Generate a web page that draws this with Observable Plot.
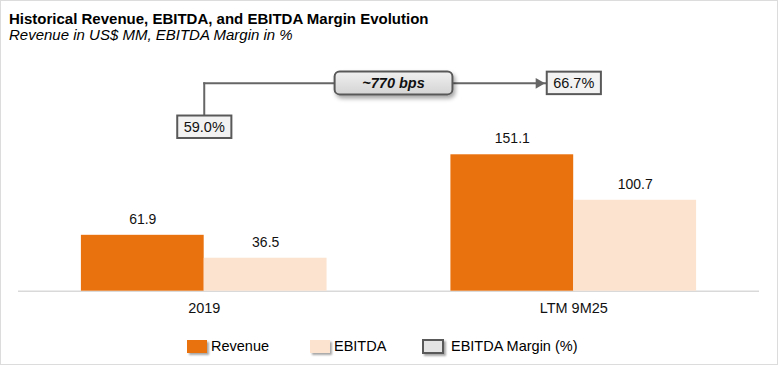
<!DOCTYPE html>
<html>
<head>
<meta charset="utf-8">
<script src="https://cdn.jsdelivr.net/npm/d3@7"></script>
<script src="https://cdn.jsdelivr.net/npm/@observablehq/plot@0.6"></script>
<style>
  body { margin: 0; background: #fff; }
  #wrap { position: relative; width: 778px; height: 365px; box-sizing: border-box; border: 1px solid #dcdcdc;
          font-family: "Liberation Sans", Arial, sans-serif; color: #000; overflow: hidden; background: #fff; }
  #title { position: absolute; left: 8px; top: 8.6px; font-weight: bold; font-size: 15px; line-height: 17px; white-space: nowrap; }
  #subtitle { position: absolute; left: 8px; top: 24.6px; font-style: italic; font-size: 15px; line-height: 17px; white-space: nowrap; }
  #chart { position: absolute; left: -1px; top: 44px; }
  .lg { position: absolute; top: 336.5px; font-size: 14.5px; line-height: 17px; white-space: nowrap; display: flex; align-items: center; }
  .sw { display: inline-block; width: 20px; height: 13px; box-shadow: 2px 2px 2px rgba(0,0,0,0.35); box-sizing: border-box; }
</style>
</head>
<body>
<div id="wrap">
  <div id="title"></div>
  <div id="subtitle"></div>
  <div id="chart"></div>
</div>
<script>
// ---------- data ----------
const titleText = "Historical Revenue, EBITDA, and EBITDA Margin Evolution";
const subtitleText = "Revenue in US$ MM, EBITDA Margin in %";
const categories = ["2019", "LTM 9M25"];
const revenue = [61.9, 151.1];
const ebitda = [36.5, 100.7];
const ebitdaMargin = [59.0, 66.7];
const marginChange = "~770 bps";
const seriesNames = ["Revenue", "EBITDA", "EBITDA Margin (%)"];
const seriesColors = ["#E9720E", "#FCE3CF", "#E4E4E4"];

// ---------- layout ----------
const W = 778, H = 275, mL = 18, mR = 18, mT = 11, mB = 29;
const yMax = 260;
const xOpts = {type: "band", domain: categories, paddingInner: 0.335, paddingOuter: 0.17};
const xs = Plot.scale({x: {...xOpts, range: [mL, W - mR]}});
const half = xs.bandwidth / 2;

// secondary (margin %) axis, expressed in primary y units
const marginAxis = d3.scaleLinear().domain([30.2, 71.4]).range([0, yMax]);

const rev = categories.map((c, i) => ({cat: c, series: seriesNames[0], value: revenue[i]}));
const ebt = categories.map((c, i) => ({cat: c, series: seriesNames[1], value: ebitda[i]}));
const margins = categories.map((c, i) => ({cat: c, m: ebitdaMargin[i], y: marginAxis(ebitdaMargin[i])}));
const bridge = [{from: categories[0], to: categories[1], y0: margins[0].y, y1: margins[1].y, label: marginChange}];

document.getElementById("title").textContent = titleText;
document.getElementById("subtitle").textContent = subtitleText;

const chart = Plot.plot({
  width: W, height: H,
  marginLeft: mL, marginRight: mR, marginTop: mT, marginBottom: mB,
  x: {...xOpts, axis: null},
  y: {domain: [0, yMax], axis: null},
  style: {fontFamily: "'Liberation Sans', Arial, sans-serif", fontSize: "14px", color: "#000", background: "transparent", overflow: "visible"},
  marks: [
    Plot.ruleY([0], {stroke: "#d9d9d9", strokeWidth: 1.5}),
    Plot.barY(rev, {x: "cat", y: "value", fill: seriesColors[0], insetRight: half}),
    Plot.barY(ebt, {x: "cat", y: "value", fill: seriesColors[1], insetLeft: half}),
    Plot.text(rev, {x: "cat", y: "value", text: d => d.value.toFixed(1), dx: -half / 2, dy: -16, lineAnchor: "middle", fontSize: 14, fill: "#111"}),
    Plot.text(ebt, {x: "cat", y: "value", text: d => d.value.toFixed(1), dx: half / 2, dy: -16, lineAnchor: "middle", fontSize: 14, fill: "#111"}),
    Plot.text(categories, {x: d => d, frameAnchor: "bottom", dy: 17.5, lineAnchor: "middle", fontSize: 14.5, fill: "#111"}),
    Plot.link(bridge, {x1: "from", x2: "from", y1: "y0", y2: "y1", stroke: "#666", strokeWidth: 2, strokeLinecap: "square"}),
    Plot.link(bridge, {x1: "from", x2: "to", y1: "y1", y2: "y1", stroke: "#666", strokeWidth: 2, strokeLinecap: "square"}),
    Plot.dot(bridge, {x: "to", y: "y1", symbol: "triangle", rotate: 90, r: 4, fill: "#666", stroke: null, dx: -35}),
    Plot.text(margins, {x: "cat", y: "y", text: d => d.m.toFixed(1) + "%", fontSize: 14.5, lineAnchor: "middle", fill: "#111"}),
    Plot.text(bridge, {x: "from", y: "y1", text: "label", dx: xs.step / 2 + 4.5, lineAnchor: "middle", fontWeight: "bold", fontStyle: "italic", fontSize: 14.5, fill: "#111"})
  ]
});
document.getElementById("chart").append(chart);

// ---------- boxes behind annotation texts ----------
const svg = d3.select(chart);
const defs = svg.insert("defs", ":first-child");
const grad = defs.append("linearGradient").attr("id", "bpsGrad").attr("x1", 0).attr("y1", 0).attr("x2", 0).attr("y2", 1);
grad.append("stop").attr("offset", "0%").attr("stop-color", "#f0f0f0");
grad.append("stop").attr("offset", "100%").attr("stop-color", "#d4d4d4");
const filt = defs.append("filter").attr("id", "bpsShadow").attr("x", "-20%").attr("y", "-40%").attr("width", "150%").attr("height", "200%");
filt.append("feDropShadow").attr("dx", 2).attr("dy", 3).attr("stdDeviation", 2).attr("flood-color", "#000").attr("flood-opacity", 0.35);

function boxify(g, o) {
  d3.select(g).selectAll("text").each(function () {
    const t = this;
    const b = t.getBBox();
    const w = o.width != null ? o.width : b.width + 2 * o.padX;
    const cx = b.x + b.width / 2, cy = b.y + b.height / 2 + (o.shiftY || 0);
    const r = d3.select(t.parentNode).insert("rect", () => t)
      .attr("x", cx - w / 2).attr("y", cy - o.height / 2)
      .attr("width", w).attr("height", o.height)
      .attr("rx", o.rx || 0)
      .attr("fill", o.fill).attr("stroke", o.stroke).attr("stroke-width", o.strokeWidth);
    if (t.getAttribute("transform")) r.attr("transform", t.getAttribute("transform"));
    if (o.filter) r.attr("filter", o.filter);
  });
}
const textGroups = svg.selectAll('g[aria-label="text"]').nodes();
boxify(textGroups[textGroups.length - 2], {padX: 6.5, height: 22.5, fill: "#f2f2f2", stroke: "#595959", strokeWidth: 2});
boxify(textGroups[textGroups.length - 1], {width: 118, height: 23, rx: 5, fill: "url(#bpsGrad)", stroke: "#595959", strokeWidth: 2, filter: "url(#bpsShadow)"});

// ---------- legend ----------
const wrap = document.getElementById("wrap");
const legendLeft = [186, 309, 421];
const legendGap = [4, 4, 7];
seriesNames.forEach((name, i) => {
  const item = document.createElement("div");
  item.className = "lg";
  item.style.left = legendLeft[i] + "px";
  const sw = document.createElement("span");
  sw.className = "sw";
  sw.style.background = seriesColors[i];
  if (i === 2) { sw.style.width = "22px"; sw.style.height = "15px"; sw.style.border = "2px solid #595959"; }
  sw.style.marginRight = legendGap[i] + "px";
  item.append(sw, document.createTextNode(name));
  wrap.append(item);
});
</script>
</body>
</html>
